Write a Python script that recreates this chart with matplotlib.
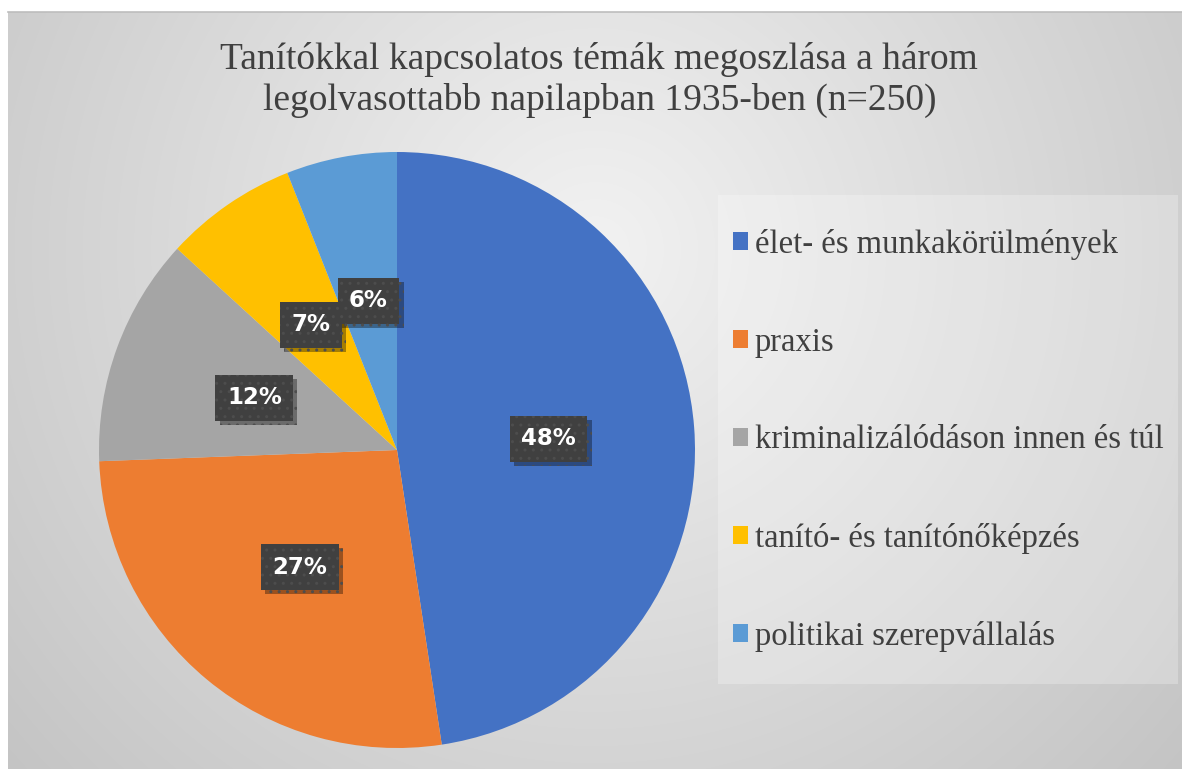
import matplotlib.pyplot as plt
import numpy as np
from matplotlib.patches import Patch, Rectangle
import matplotlib.patheffects as pe

# topic counts out of n=250 (shares)
labels = ['élet- és munkakörülmények', 'praxis', 'kriminalizálódáson innen és túl',
          'tanító- és tanítónőképzés', 'politikai szerepvállalás']
counts = [119, 67, 31, 18, 15]
colors = ['#4472C4', '#ED7D31', '#A5A5A5', '#FFC000', '#5B9BD5']
title = 'Tanítókkal kapcsolatos témák megoszlása a három\nlegolvasottabb napilapban 1935-ben (n=250)'

W, H = 1182, 769
fig = plt.figure(figsize=(W / 100, H / 100), dpi=100)
fig.patch.set_facecolor('white')

# radial grey background of the chart area
bg = fig.add_axes([8 / W, 0, 1 - 8 / W, (H - 12) / H])
xx, yy = np.meshgrid(np.arange(8, W), np.arange(12, H))
d = np.hypot(xx - 595, yy - 250) / 786.0
g = (242 - 46 * d) / 255.0
bg.imshow(np.dstack([g, g, g]), aspect='auto', interpolation='bilinear')
bg.set_axis_off()
fig.add_artist(plt.Line2D([8 / W, 1], [(H - 12) / H] * 2, color='#bdbdbd', lw=1.2))

# legend panel
fig.add_artist(Rectangle((718 / W, (H - 684) / H), 460 / W, 489 / H,
                         transform=fig.transFigure, facecolor='white', alpha=0.25,
                         edgecolor='none'))

cx, cy, r = 397, 450, 298
ax = fig.add_axes([(cx - r) / W, (H - cy - r) / H, 2 * r / W, 2 * r / H])
wedges, texts, autotexts = ax.pie(counts, colors=colors, startangle=90, counterclock=False,
                                  autopct='%.0f%%', pctdistance=0.51,
                                  wedgeprops=dict(linewidth=0))
ax.set_xlim(-1, 1)
ax.set_ylim(-1, 1)
ax.set_aspect('equal')

for t in autotexts:
    t.set_color('white')
    t.set_fontsize(16.5)
    t.set_fontweight('bold')
    t.set_bbox(dict(boxstyle='square,pad=0.5', facecolor='#404040', edgecolor='#4d4d4d',
                    hatch='..', linewidth=0))
    t.get_bbox_patch().set_path_effects([
        pe.SimplePatchShadow(offset=(3, -3), shadow_rgbFace='black', alpha=0.35),
        pe.Normal()])

fig.text(0.507, (H - 80) / H, title, ha='center', va='center', fontsize=27,
         family='Liberation Serif', color='#404040', linespacing=1.2)

handles = [Patch(facecolor=c, edgecolor='none') for c in colors]
leg = fig.legend(handles, labels, loc='upper left', bbox_to_anchor=(733 / W, (H - 229) / H),
                 frameon=False, prop={'family': 'Liberation Serif', 'size': 23.5},
                 handlelength=0.47, handleheight=0.47, handletextpad=0.2,
                 labelspacing=2.06, borderaxespad=0, borderpad=0)
for t in leg.get_texts():
    t.set_color('#404040')

fig.savefig('out.png', dpi=100)
